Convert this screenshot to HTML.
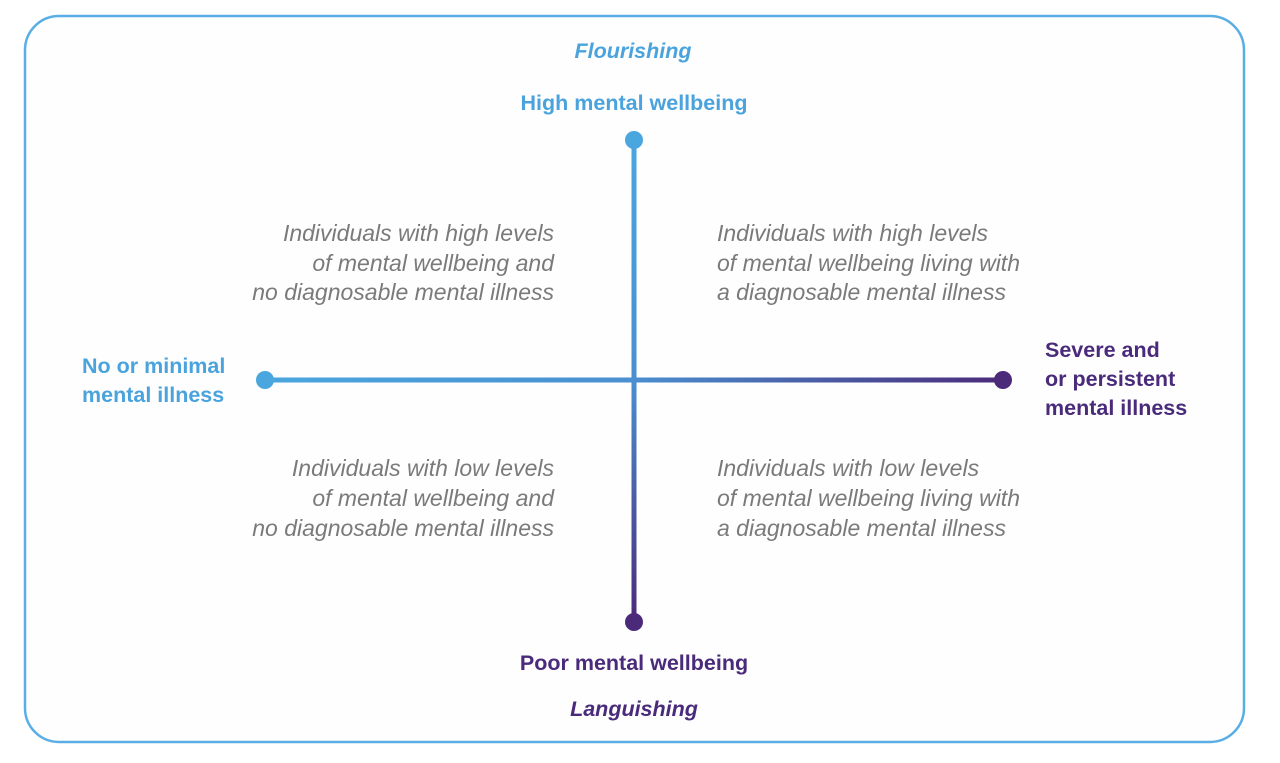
<!DOCTYPE html>
<html><head><meta charset="utf-8"><style>
body{margin:0;background:#fff}
svg{display:block}
text{font-family:"Liberation Sans Narrow","Liberation Sans",sans-serif}
.q{font-style:italic;fill:#7a7a7a;font-size:23px}
.b{font-weight:bold;fill:#4aa3dc;font-size:21.5px}
.p{font-weight:bold;fill:#4a2a7a;font-size:21.5px}
</style></head><body>
<svg width="1280" height="763" viewBox="0 0 1280 763">
<defs>
<linearGradient id="gv" x1="0" y1="140" x2="0" y2="622" gradientUnits="userSpaceOnUse">
<stop offset="0" stop-color="#4aa6df"/><stop offset="0.5" stop-color="#4a8fd0"/><stop offset="1" stop-color="#4b2a7a"/></linearGradient>
<linearGradient id="gh" x1="265" y1="0" x2="1003" y2="0" gradientUnits="userSpaceOnUse">
<stop offset="0" stop-color="#4aa6df"/><stop offset="0.5" stop-color="#4a8fd0"/><stop offset="1" stop-color="#4b2a7a"/></linearGradient>
</defs>
<rect x="25" y="16" width="1219" height="726" rx="34" fill="#fefefe" stroke="#5aaee4" stroke-width="2.5"/>
<line x1="634" y1="140" x2="634" y2="622" stroke="url(#gv)" stroke-width="5"/>
<line x1="265" y1="380" x2="1003" y2="380" stroke="url(#gh)" stroke-width="5"/>
<circle cx="634" cy="140" r="9" fill="#4aa6df"/>
<circle cx="634" cy="622" r="9" fill="#4b2a7a"/>
<circle cx="265" cy="380" r="9" fill="#4aa6df"/>
<circle cx="1003" cy="380" r="9" fill="#4b2a7a"/>
<text x="633" y="58" class="b" text-anchor="middle" font-style="italic">Flourishing</text>
<text x="634" y="110" class="b" text-anchor="middle">High mental wellbeing</text>
<text x="634" y="670" class="p" text-anchor="middle">Poor mental wellbeing</text>
<text x="634" y="716" class="p" text-anchor="middle" font-style="italic">Languishing</text>
<text x="82" y="373" class="b">No or minimal</text>
<text x="82" y="402" class="b">mental illness</text>
<text x="1045" y="357" class="p">Severe and</text>
<text x="1045" y="386" class="p">or persistent</text>
<text x="1045" y="415" class="p">mental illness</text>
<g text-anchor="end">
<text x="554" y="241" class="q">Individuals with high levels</text>
<text x="554" y="271" class="q">of mental wellbeing and</text>
<text x="554" y="300" class="q">no diagnosable mental illness</text>
<text x="554" y="476" class="q">Individuals with low levels</text>
<text x="554" y="506" class="q">of mental wellbeing and</text>
<text x="554" y="536" class="q">no diagnosable mental illness</text>
</g>
<text x="717" y="241" class="q">Individuals with high levels</text>
<text x="717" y="271" class="q">of mental wellbeing living with</text>
<text x="717" y="300" class="q">a diagnosable mental illness</text>
<text x="717" y="476" class="q">Individuals with low levels</text>
<text x="717" y="506" class="q">of mental wellbeing living with</text>
<text x="717" y="536" class="q">a diagnosable mental illness</text>
</svg>
</body></html>
